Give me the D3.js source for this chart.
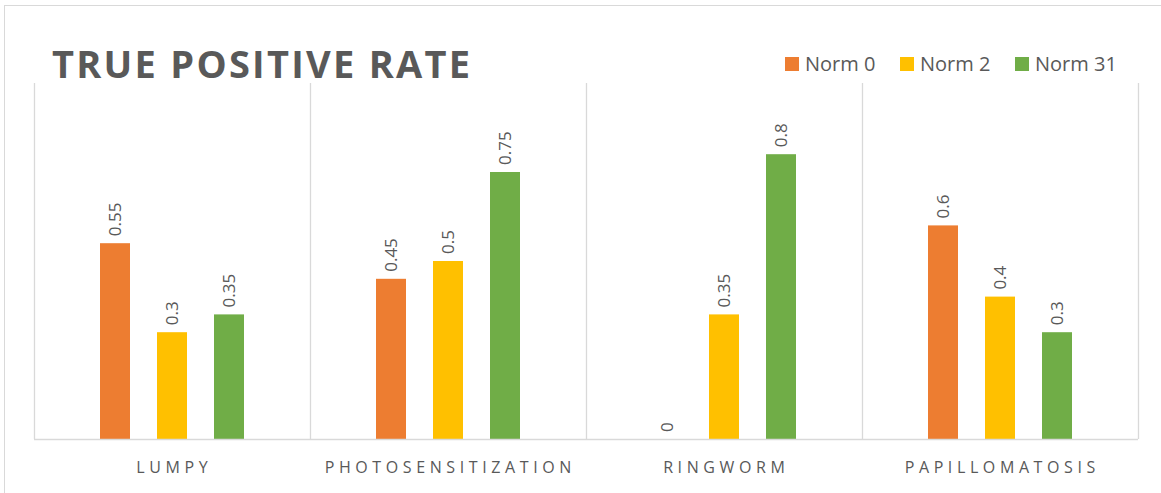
<!DOCTYPE html>
<html><head><meta charset="utf-8">
<script src="https://cdn.jsdelivr.net/npm/d3@7"></script>
<style>body{margin:0;background:#fff;} svg{display:block;font-family:"Open Sans",sans-serif;}</style>
</head><body>
<script>
const categories = ["LUMPY","PHOTOSENSITIZATION","RINGWORM","PAPILLOMATOSIS"];
const seriesNames = ["Norm 0","Norm 2","Norm 31"];
const norm0 = [0.55,0.45,0,0.6];
const norm2 = [0.3,0.5,0.35,0.4];
const norm31 = [0.35,0.75,0.8,0.3];
const colors = ["#ED7D31","#FFC000","#70AD47"];
const title = "TRUE POSITIVE RATE";

(function(){
const W=1161,H=493;
const svg=d3.select("body").append("svg").attr("width",W).attr("height",H);
svg.append("rect").attr("x",4.5).attr("y",5.5).attr("width",1300).attr("height",700)
  .attr("fill","#fff").attr("stroke","#D9D9D9").attr("stroke-width",1);

const pLeft=34, pRight=1138, pTop=83, pBottom=439;
const x0=d3.scaleBand().domain(categories).range([pLeft,pRight]).padding(0);
const x1=d3.scaleBand().domain(seriesNames).range([66,210]).paddingInner(27/57).paddingOuter(0);
const y=d3.scaleLinear().domain([0,1]).range([pBottom,pTop]);

const series=[norm0,norm2,norm31];
const data=categories.map((c,i)=>({cat:c,vals:seriesNames.map((s,j)=>({s,j,v:series[j][i]}))}));

const divs=categories.map(c=>x0(c)).concat([pRight]);
svg.selectAll("line.div").data(divs).enter().append("line")
  .attr("x1",d=>Math.round(d)+0.5).attr("x2",d=>Math.round(d)+0.5)
  .attr("y1",pTop).attr("y2",pBottom).attr("stroke","#D9D9D9").attr("stroke-width",1.3);

const g=svg.selectAll("g.grp").data(data).enter().append("g")
  .attr("transform",d=>`translate(${x0(d.cat)},0)`);
g.selectAll("rect").data(d=>d.vals).enter().append("rect")
  .attr("x",d=>x1(d.s)).attr("width",x1.bandwidth())
  .attr("y",d=>y(d.v)).attr("height",d=>pBottom-y(d.v))
  .attr("fill",d=>colors[d.j]);
g.selectAll("text.val").data(d=>d.vals).enter().append("text")
  .attr("transform",d=>`translate(${x1(d.s)+x1.bandwidth()/2+6},${y(d.v)-7}) rotate(-90)`)
  .attr("font-size",17).attr("fill","#595959").text(d=>String(d.v));

svg.append("line").attr("x1",pLeft).attr("x2",pRight).attr("y1",pBottom+0.5).attr("y2",pBottom+0.5)
  .attr("stroke","#D9D9D9").attr("stroke-width",1.3);

const ls=4.6;
svg.selectAll("text.cat").data(categories).enter().append("text")
  .attr("x",d=>x0(d)+x0.bandwidth()/2+ls/2).attr("y",473).attr("text-anchor","middle")
  .attr("font-size",16).attr("fill","#595959").attr("letter-spacing",ls+"px").text(d=>d);

svg.append("text").attr("x",52).attr("y",78).attr("font-size",38).attr("font-weight","bold")
  .attr("fill","#595959").attr("textLength",418).attr("lengthAdjust","spacing").text(title);

const legX=[785,900,1015];
const leg=svg.selectAll("g.leg").data(seriesNames).enter().append("g")
  .attr("transform",(d,i)=>`translate(${legX[i]},0)`);
leg.append("rect").attr("x",0).attr("y",57).attr("width",14).attr("height",14).attr("fill",(d,i)=>colors[i]);
leg.append("text").attr("x",20).attr("y",71).attr("font-size",20).attr("fill","#595959").text(d=>d);
})();
</script>
</body></html>
